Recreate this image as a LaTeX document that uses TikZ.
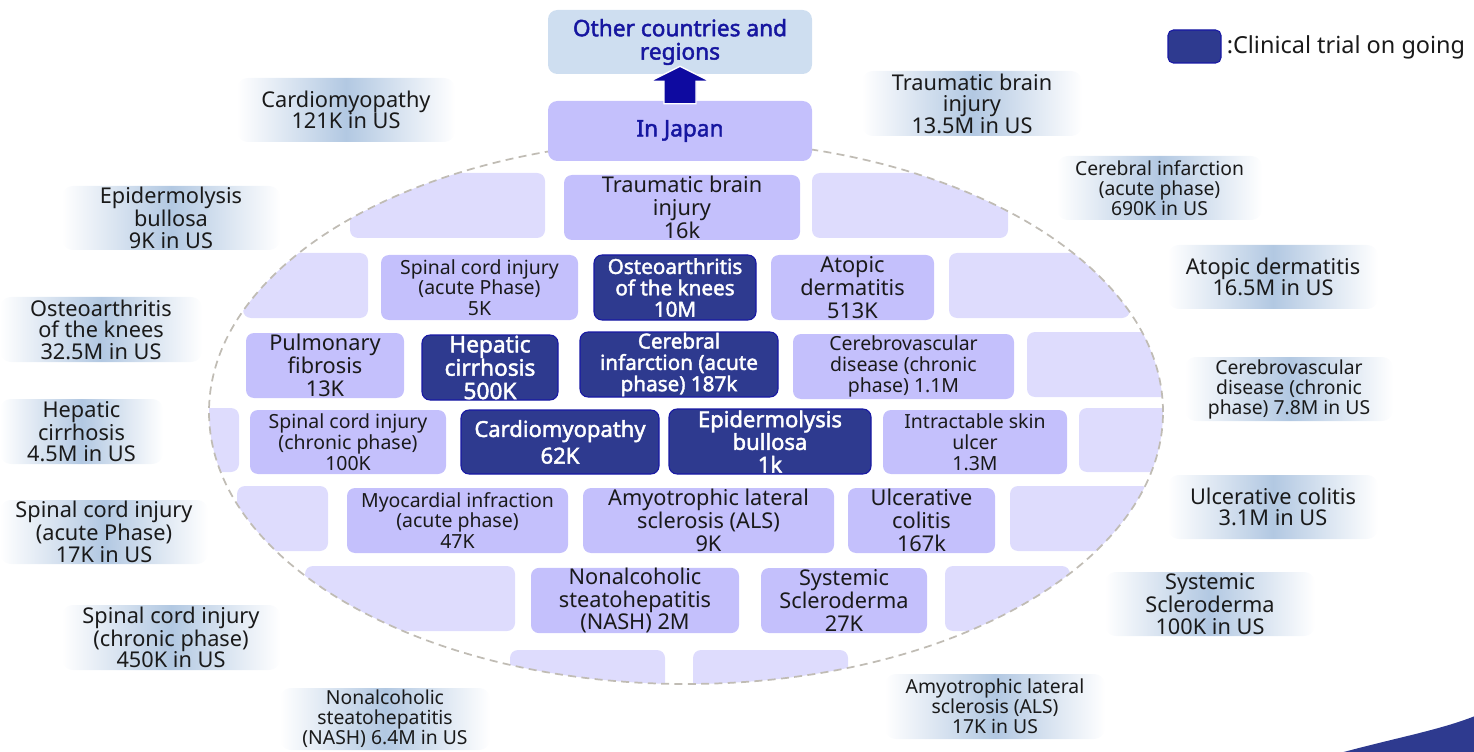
\documentclass[tikz,border=0pt]{standalone}
\usepackage{fontspec}
\setmainfont{Noto Sans}
\newfontfamily\bfam{Noto Sans}[FakeBold=2]
\usetikzlibrary{calc}
\definecolor{lav}{RGB}{196,192,252}
\definecolor{hat}{RGB}{222,220,253}
\definecolor{navy}{RGB}{46,58,143}
\definecolor{navyedge}{RGB}{24,24,165}
\definecolor{obl}{RGB}{178,200,226}
\definecolor{otherbg}{RGB}{206,222,240}
\definecolor{ttl}{RGB}{22,22,160}
\definecolor{arr}{RGB}{14,10,160}
\definecolor{ell}{RGB}{192,188,180}
\definecolor{txt}{RGB}{26,26,26}
\newcommand\fL{\fontsize{16.3}{17}\selectfont}
\newcommand\fS{\fontsize{14.6}{15.6}\selectfont}
\newcommand\fOL{\fontsize{16.3}{16.2}\selectfont}
\newcommand\fOS{\fontsize{14.5}{15}\selectfont}
\newcommand\fB{\bfam\fontsize{15.5}{16}\selectfont}
\newcommand\mybox[7]{%
 \pgfmathsetmacro\bw{(#4-#2)*0.75}%
 \pgfmathsetmacro\bh{(#5-#3)*0.75}%
 \node[#6, minimum width=\bw pt, minimum height=\bh pt] (#1) at ({(#2+#4)/2},{(#3+#5)/2+2}) {#7};}
\tikzset{
 inbox/.style={fill=lav, rounded corners=6pt, inner sep=0pt, align=center, text=txt, font=\fL},
 inboxs/.style={inbox, font=\fS},
 darkbox/.style={fill=navy, draw=navyedge, line width=0.8pt, rounded corners=6pt, inner sep=0pt, align=center, text=white, font=\fB},
 hatchbox/.style={fill=hat, rounded corners=6pt},
 outbox/.style={left color=white, right color=white, middle color=obl, rounded corners=8pt, inner sep=0pt, align=center, text=txt, font=\fOL},
 outboxs/.style={outbox, font=\fOS},
 topbox/.style={rounded corners=7pt, inner sep=0pt, align=center, text=ttl, font=\bfam\fontsize{17}{17.5}\selectfont},
}
\begin{document}
\begin{tikzpicture}[x=0.75pt,y=-0.75pt]
\useasboundingbox (0,0) rectangle (1474,752);
\clip (0,0) rectangle (1474,752);

% hatched boxes clipped by ellipse
\begin{scope}
\clip (686,412) ellipse [x radius=357.75pt, y radius=204pt];
\fill[hatchbox] (350,173) rectangle (545,238);
\fill[hatchbox] (812,173) rectangle (1008,238);
\fill[hatchbox] (243,253) rectangle (368,318);
\fill[hatchbox] (949,253) rectangle (1130,318);
\fill[hatchbox] (1027,332) rectangle (1170,397);
\fill[hatchbox] (190,408) rectangle (239,472);
\fill[hatchbox] (1079,408) rectangle (1180,472);
\fill[hatchbox] (237,486) rectangle (328,551);
\fill[hatchbox] (1010,486) rectangle (1150,551);
\fill[hatchbox] (305,566) rectangle (515,631);
\fill[hatchbox] (945,566) rectangle (1070,631);
\fill[hatchbox] (510,650) rectangle (665,710);
\fill[hatchbox] (693,650) rectangle (848,710);
\end{scope}
\draw[ell, line width=1.3pt, dash pattern=on 6pt off 4pt] (686,412) ellipse [x radius=357.75pt, y radius=204pt];

% top
\mybox{other}{548}{8}{812}{72}{topbox, fill=otherbg}{Other countries and\\regions}
\mybox{japan}{548}{99}{812}{159}{topbox, fill=lav}{In Japan}
\draw[fill=arr, draw=white, line width=1pt]
 ($(japan.north)+(-16,3)$) -- ($(other.south)+(-16,7)$) -- ($(other.south)+(-30,7)$)
 -- ($(other.south)+(0,-8)$) -- ($(other.south)+(30,7)$) -- ($(other.south)+(16,7)$)
 -- ($(japan.north)+(16,3)$) -- cycle;

% legend
\mybox{leg}{1168}{28}{1221}{61}{fill=navy, draw=navyedge, line width=0.8pt, rounded corners=4pt}{}
\node[anchor=west, inner sep=0pt, text=txt, font=\fontsize{17.6}{18}\selectfont] (legt) at ($(leg.east)+(5,1)$) {:Clinical trial on going};

% inner boxes
\mybox{tbi}{564}{173}{800}{238}{inbox}{Traumatic brain\\injury\\16k}
\mybox{sca}{381}{253}{578}{318}{inboxs}{Spinal cord injury\\(acute Phase)\\5K}
\mybox{oak}{594}{253}{756}{318}{darkbox}{Osteoarthritis\\of the knees\\10M}
\mybox{atd}{771}{253}{934}{318}{inbox}{Atopic\\dermatitis\\513K}
\mybox{pf}{246}{331}{404}{396}{inbox}{Pulmonary\\fibrosis\\13K}
\mybox{hc}{422}{333}{558}{398}{darkbox, font=\bfam\fontsize{17}{17.5}\selectfont}{Hepatic\\cirrhosis\\500K}
\mybox{cia}{580}{330}{778}{395}{darkbox}{Cerebral\\infarction (acute\\phase) 187k}
\mybox{cvd}{793}{332}{1014}{397}{inboxs}{Cerebrovascular\\disease (chronic\\phase) 1.1M}
\mybox{scc}{250}{408}{446}{472}{inboxs}{Spinal cord injury\\(chronic phase)\\100K}
\mybox{cm}{461}{408}{659}{472}{darkbox, font=\bfam\fontsize{16.5}{20}\selectfont}{Cardiomyopathy\\62K}
\mybox{eb}{669}{407}{871}{472}{darkbox, font=\bfam\fontsize{16.5}{17}\selectfont}{Epidermolysis\\bullosa\\1k}
\mybox{isu}{883}{408}{1067}{472}{inboxs}{Intractable skin\\ulcer\\1.3M}
\mybox{mi}{347}{486}{568}{551}{inboxs}{Myocardial infraction\\(acute phase)\\47K}
\mybox{als}{583}{486}{834}{551}{inbox}{Amyotrophic lateral\\sclerosis (ALS)\\9K}
\mybox{uc}{848}{486}{995}{551}{inbox}{Ulcerative\\colitis\\167k}
\mybox{nash}{531}{566}{739}{631}{inbox}{Nonalcoholic\\steatohepatitis\\(NASH) 2M}
\mybox{ss}{761}{566}{927}{631}{inbox}{Systemic\\Scleroderma\\27K}

% outer labels
\mybox{ocm}{237}{76}{455}{140}{outbox}{Cardiomyopathy\\121K in US}
\mybox{oeb}{62}{184}{280}{248}{outbox}{Epidermolysis\\bullosa\\9K in US}
\mybox{ooa}{0}{295}{202}{360}{outbox}{Osteoarthritis\\of the knees\\32.5M in US}
\mybox{ohc}{0}{397}{163}{462}{outbox}{Hepatic\\cirrhosis\\4.5M in US}
\mybox{osca}{0}{498}{208}{562}{outbox}{Spinal cord injury\\(acute Phase)\\17K in US}
\mybox{oscc}{62}{603}{280}{668}{outbox}{Spinal cord injury\\(chronic phase)\\450K in US}
\mybox{onash}{280}{686}{490}{748}{outboxs}{Nonalcoholic\\steatohepatitis\\(NASH) 6.4M in US}
\mybox{otbi}{862}{69}{1082}{134}{outbox}{Traumatic brain\\injury\\13.5M in US}
\mybox{ocia}{1057}{154}{1262}{218}{outboxs}{Cerebral infarction\\(acute phase)\\690K in US}
\mybox{oatd}{1168}{243}{1378}{307}{outbox}{Atopic dermatitis\\16.5M in US}
\mybox{ocvd}{1185}{355}{1393}{419}{outboxs}{Cerebrovascular\\disease (chronic\\phase) 7.8M in US}
\mybox{ouc}{1168}{473}{1378}{537}{outbox}{Ulcerative colitis\\3.1M in US}
\mybox{oss}{1105}{570}{1315}{634}{outbox}{Systemic\\Scleroderma\\100K in US}
\mybox{oals}{885}{672}{1105}{737}{outboxs}{Amyotrophic lateral\\sclerosis (ALS)\\17K in US}

% corner decoration
\fill[navy] (1340,753) .. controls (1395,738) and (1440,730) .. (1475,716) -- (1475,753) -- cycle;
\end{tikzpicture}
\end{document}
